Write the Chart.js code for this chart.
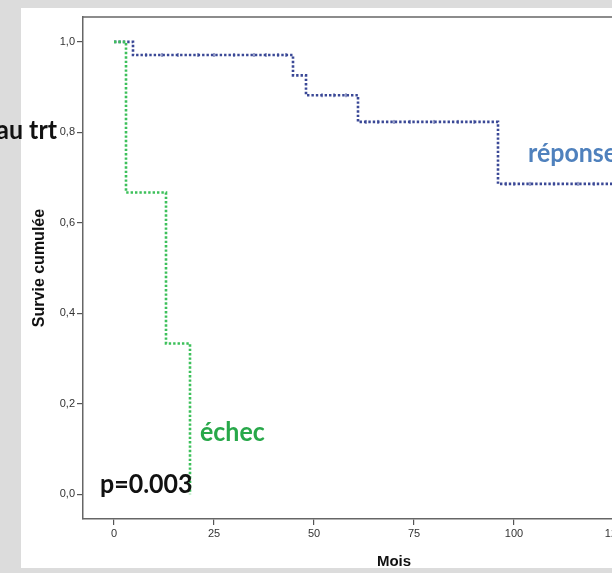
<!DOCTYPE html>
<html>
<head>
<meta charset="utf-8">
<script src="https://cdn.jsdelivr.net/npm/chart.js@4/dist/chart.umd.min.js"></script>
<style>
  html, body { margin: 0; padding: 0; overflow: hidden; background: #dcdcdc; }
  #wrap { width: 612px; height: 573px; overflow: hidden; }
</style>
</head>
<body>
<div id="wrap"><canvas id="km" width="720" height="573"></canvas></div>
<script>
// Kaplan-Meier steps: [month, cumulative survival]
const echecSteps = [[0, 1], [3, 0.667], [13, 0.333], [19, 0]];
const reponseSteps = [[0, 1], [4.75, 0.971], [44.75, 0.926], [48, 0.882], [61, 0.823], [96, 0.686], [140, 0.686]];
// censored observations (months, survival level)
const censoredMonths = [8, 12, 16, 21, 25, 30, 35, 38, 41, 43, 52, 55, 58, 63, 66, 70, 74, 80, 86, 90, 98, 100, 104, 110, 116, 120];
const censoredLevels = [0.971, 0.971, 0.971, 0.971, 0.971, 0.971, 0.971, 0.971, 0.971, 0.971, 0.882, 0.882, 0.882, 0.823, 0.823, 0.823, 0.823, 0.823, 0.823, 0.823, 0.686, 0.686, 0.686, 0.686, 0.686, 0.686];
const xTicks = [0, 25, 50, 75, 100, 125];
const yTicks = [0, 0.2, 0.4, 0.6, 0.8, 1.0];

const toXY = (steps) => steps.map(([x, y]) => ({ x, y }));

// text a bit taller than wide, like the pasted labels in the original
function tallText(ctx, text, x, y) {
  ctx.save();
  ctx.translate(x, y);
  ctx.scale(1.04, 1.12);
  ctx.fillText(text, 0, 0);
  ctx.restore();
}

const frame = {
  id: "frame",
  beforeDraw(chart) {
    const ctx = chart.ctx;
    ctx.save();
    ctx.fillStyle = "#dcdcdc";
    ctx.fillRect(0, 0, chart.width, chart.height);
    ctx.fillStyle = "#ffffff";
    ctx.fillRect(21, 8, chart.width - 21, 560);
    ctx.restore();
  },
  beforeDatasetsDraw(chart) {
    const { ctx, chartArea } = chart;
    ctx.save();
    ctx.strokeStyle = "#666";
    ctx.lineWidth = 1.5;
    ctx.beginPath();
    ctx.moveTo(chartArea.left, chartArea.top);
    ctx.lineTo(chartArea.right, chartArea.top);
    ctx.stroke();
    ctx.restore();
  },
  afterDraw(chart) {
    const ctx = chart.ctx;
    ctx.save();
    ctx.textBaseline = "alphabetic";
    ctx.font = "bold 24px Lato";
    ctx.fillStyle = "#111";
    ctx.textAlign = "right";
    tallText(ctx, "au trt", 57, 139);
    ctx.textAlign = "left";
    tallText(ctx, "p=0.003", 100, 493);
    ctx.fillStyle = "#28a84a";
    tallText(ctx, "échec", 200, 441);
    ctx.fillStyle = "#4f81bd";
    tallText(ctx, "réponse", 528, 162);
    ctx.restore();
  },
};

const ctx = document.getElementById("km").getContext("2d");
const config = {
  type: "scatter",
  data: {
    datasets: [
      {
        label: "échec",
        data: toXY(echecSteps),
        showLine: true,
        stepped: "before",
        borderColor: "#3cc05a",
        borderWidth: 2.6,
        borderDash: [2.4, 2],
        pointRadius: 0,
      },
      {
        label: "censurés",
        data: censoredMonths.map((m, i) => ({ x: m, y: censoredLevels[i] })),
        showLine: false,
        pointStyle: "line",
        rotation: 90,
        pointRadius: 2,
        borderColor: "#3a4896",
        borderWidth: 1,
      },
      {
        label: "réponse",
        data: toXY(reponseSteps),
        showLine: true,
        stepped: "before",
        borderColor: "#3a4896",
        borderWidth: 2.6,
        borderDash: [2.4, 2],
        pointRadius: 0,
      },
    ],
  },
  options: {
    responsive: false,
    animation: false,
    devicePixelRatio: 1,
    layout: { padding: { left: 0, top: 17, right: 15, bottom: 0 } },
    plugins: { legend: { display: false }, tooltip: { enabled: false } },
    scales: {
      x: {
        type: "linear",
        min: -7.75,
        max: 147.75,
        afterBuildTicks: (scale) => { scale.ticks = xTicks.map((v) => ({ value: v })); },
        afterFit: (scale) => { scale.height = 54; },
        grid: { drawOnChartArea: false, drawTicks: true, tickLength: 6, color: "#555", lineWidth: 1.2 },
        border: { display: true, color: "#666", width: 1.5 },
        ticks: { color: "#333", font: { family: "Arial", size: 11 }, padding: 2, maxRotation: 0 },
        title: { display: true, text: "Mois", color: "#111", font: { family: "Arial", size: 15, weight: "bold" }, padding: { top: 0, bottom: 2 } },
      },
      y: {
        type: "linear",
        min: -0.055,
        max: 1.055,
        afterBuildTicks: (scale) => { scale.ticks = yTicks.map((v) => ({ value: v })); },
        afterFit: (scale) => { scale.width = 83; },
        grid: { drawOnChartArea: false, drawTicks: true, tickLength: 6, color: "#555", lineWidth: 1.2 },
        border: { display: true, color: "#666", width: 1.5 },
        ticks: {
          color: "#333",
          font: { family: "Arial", size: 11 },
          padding: 2,
          callback: (v) => v.toFixed(1).replace(".", ","),
        },
        title: { display: true, text: "Survie cumulée", color: "#111", font: { family: "Arial", size: 16, weight: "bold" }, padding: { top: 30, bottom: 0 } },
      },
    },
  },
  plugins: [frame],
};
const chartRender = new Chart(ctx, config);
</script>
</body>
</html>
